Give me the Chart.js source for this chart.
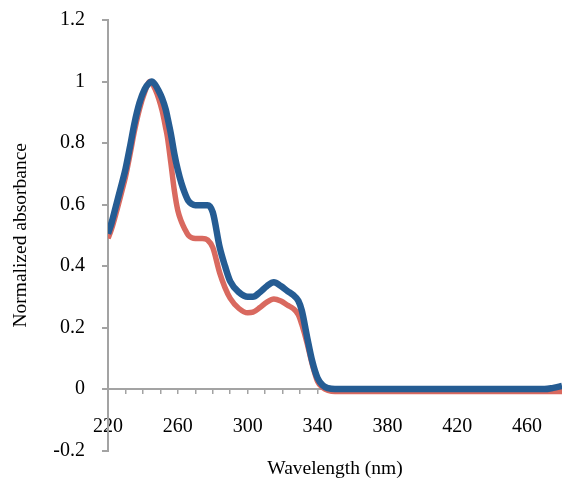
<!DOCTYPE html>
<html>
<head>
<meta charset="utf-8">
<script src="https://cdn.jsdelivr.net/npm/chart.js@4"></script>
<style>
  body { margin: 0; background: #fff; }
  canvas { display: block; }
</style>
</head>
<body>
<canvas id="c" width="562" height="481"></canvas>
<script>
// wavelength (nm)
const wavelengths = [220, 222, 225, 228, 230, 233, 235, 238, 241, 244, 245, 247, 249, 251, 253, 254, 256, 258,
  260, 262, 264, 266, 268, 270, 274, 277, 280, 284, 287, 290, 295, 300, 303, 307, 311, 315, 319, 323, 326,
  329, 331, 334, 337, 340, 343, 346, 350, 360, 380, 400, 420, 440, 460, 470, 475, 480];

// blue series
const blueAbs = [0.505, 0.54, 0.605, 0.67, 0.715, 0.80, 0.86, 0.93, 0.975, 0.997, 1.0, 0.99, 0.97, 0.945, 0.91, 0.885, 0.83, 0.765,
  0.712, 0.67, 0.637, 0.612, 0.602, 0.598, 0.598, 0.598, 0.575, 0.46, 0.40, 0.35, 0.315, 0.30, 0.30, 0.315, 0.335, 0.347, 0.335, 0.318, 0.306,
  0.287, 0.255, 0.17, 0.09, 0.036, 0.012, 0.003, 0, 0, 0, 0, 0, 0, 0, 0, 0.004, 0.01];

// red series
const redAbs = [0.49, 0.52, 0.58, 0.645, 0.69, 0.775, 0.835, 0.91, 0.965, 1.0, 0.997, 0.975, 0.945, 0.905, 0.85, 0.82, 0.735, 0.645,
  0.58, 0.545, 0.52, 0.50, 0.492, 0.49, 0.49, 0.485, 0.46, 0.377, 0.33, 0.295, 0.262, 0.248, 0.25, 0.265, 0.283, 0.293, 0.286, 0.272, 0.262,
  0.242, 0.21, 0.15, 0.08, 0.025, 0.005, -0.004, -0.008, -0.008, -0.008, -0.008, -0.008, -0.008, -0.008, -0.008, -0.008, -0.008];

const xMin = 220, xMax = 480, xStep = 10, xLabelStep = 40;
const yMin = -0.2, yMax = 1.2, yStep = 0.2;

const axisGray = '#a3a3a3';
const serif = '"Liberation Serif", "Times New Roman", serif';

const toPts = (vals) => wavelengths.map((w, i) => ({ x: w, y: vals[i] }));

new Chart(document.getElementById('c'), {
  type: 'line',
  data: {
    datasets: [
      { data: toPts(blueAbs), borderColor: '#255c93', borderWidth: 6.5 },
      { data: toPts(redAbs), borderColor: '#d9695f', borderWidth: 5.5 }
    ]
  },
  options: {
    responsive: false,
    devicePixelRatio: 1,
    animation: false,
    events: [],
    layout: { padding: { top: 20, left: 0, right: 0, bottom: 0 } },
    elements: {
      point: { radius: 0 },
      line: { cubicInterpolationMode: 'monotone', fill: false }
    },
    plugins: {
      legend: { display: false },
      tooltip: { enabled: false },
      title: {
        display: true,
        position: 'bottom',
        fullSize: false,
        text: 'Wavelength (nm)',
        color: '#000',
        font: { family: serif, size: 19.5, weight: 'normal' },
        padding: { top: 7, bottom: 0 }
      }
    },
    scales: {
      x: {
        type: 'linear',
        position: { y: 0 },
        min: xMin,
        max: xMax,
        // axis sits at y = 0, so it takes no room of its own
        afterFit: (s) => { s.height = 0; s.paddingLeft = 0; s.paddingRight = 0; },
        border: { color: axisGray, width: 2 },
        grid: { drawOnChartArea: false, drawTicks: true, tickLength: 4, color: axisGray, lineWidth: 1.5 },
        ticks: {
          stepSize: xStep,
          autoSkip: false,
          maxRotation: 0,
          minRotation: 0,
          padding: 22,
          color: '#000',
          font: { family: serif, size: 20 },
          callback: (v) => ((v - xMin) % xLabelStep === 0 && v < xMax) ? String(v) : ''
        }
      },
      y: {
        min: yMin,
        max: yMax,
        afterFit: (s) => { s.width = 108; s.paddingTop = 10; s.paddingBottom = 10; },
        border: { color: axisGray, width: 2 },
        grid: { drawOnChartArea: false, drawTicks: true, tickLength: 6, color: axisGray, lineWidth: 2 },
        ticks: {
          stepSize: yStep,
          padding: 17,
          color: '#000',
          font: { family: serif, size: 20 },
          callback: (v) => String(+v.toFixed(1))
        },
        title: {
          display: true,
          text: 'Normalized absorbance',
          color: '#000',
          font: { family: serif, size: 19.5 },
          padding: { top: 9, bottom: 0 }
        }
      }
    }
  }
});
</script>
</body>
</html>
